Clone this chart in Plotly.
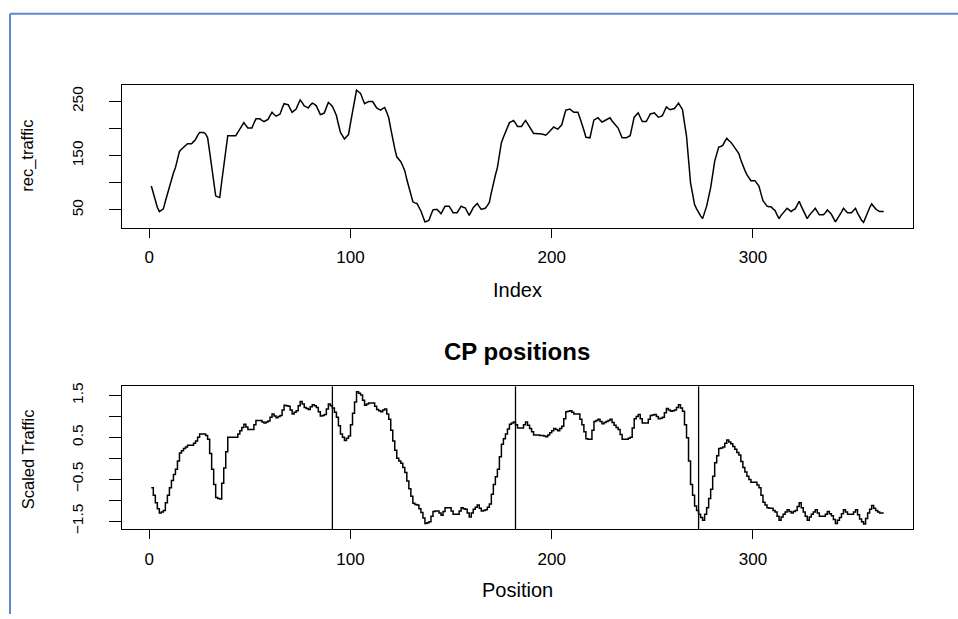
import numpy as np
import plotly.graph_objects as go

# ---------------- data ----------------
rec_traffic = [
    94, 80, 66, 55, 47, 49, 52, 66, 80, 94,
    107, 118, 128, 143, 158, 162, 166, 169, 172, 172,
    172, 176, 180, 187, 193, 193, 193, 190, 183, 157,
    128, 100, 76, 74, 73, 102, 130, 160, 187, 187,
    187, 187, 187, 193, 199, 205, 211, 206, 201, 201,
    201, 210, 218, 218, 218, 215, 213, 215, 217, 224,
    230, 226, 223, 225, 227, 237, 246, 245, 244, 237,
    230, 233, 236, 245, 253, 248, 242, 240, 238, 243,
    247, 245, 242, 234, 226, 227, 229, 239, 248, 245,
    241, 233, 224, 208, 193, 187, 181, 185, 189, 210,
    231, 252, 271, 268, 265, 255, 246, 248, 250, 250,
    250, 244, 238, 236, 234, 237, 239, 230, 220, 200,
    180, 163, 148, 143, 139, 131, 122, 106, 92, 78,
    65, 63, 62, 55, 48, 38, 28, 29, 31, 41,
    50, 51, 51, 47, 43, 50, 57, 57, 57, 51,
    45, 45, 45, 51, 57, 55, 54, 47, 40, 47,
    54, 58, 62, 56, 51, 52, 53, 58, 64, 82,
    100, 114, 128, 151, 174, 184, 193, 202, 211, 213,
    215, 210, 204, 204, 204, 210, 215, 209, 203, 197,
    191, 191, 191, 190, 190, 189, 188, 191, 195, 199,
    203, 201, 199, 203, 207, 221, 234, 235, 236, 233,
    230, 230, 230, 220, 210, 197, 184, 183, 183, 200,
    216, 218, 220, 216, 212, 214, 216, 218, 220, 214,
    209, 205, 201, 192, 183, 183, 183, 185, 187, 204,
    221, 225, 229, 221, 213, 213, 213, 220, 227, 228,
    229, 225, 221, 222, 224, 232, 240, 237, 235, 236,
    237, 242, 247, 241, 235, 210, 186, 143, 100, 80,
    60, 52, 45, 39, 34, 45, 57, 74, 91, 115,
    140, 153, 166, 167, 169, 176, 182, 178, 175, 170,
    165, 159, 154, 142, 131, 123, 115, 109, 104, 104,
    104, 99, 94, 80, 67, 62, 57, 56, 56, 52,
    49, 41, 34, 40, 45, 49, 53, 50, 47, 50,
    52, 59, 66, 57, 49, 41, 34, 40, 45, 49,
    53, 47, 41, 41, 41, 45, 50, 46, 42, 35,
    28, 34, 39, 46, 53, 49, 45, 45, 45, 49,
    53, 44, 36, 31, 27, 37, 47, 54, 61, 56,
    52, 49, 47, 47, 47,
]
cp_positions = [91, 182, 273]

top_y_ticks = [50, 150, 250]
bot_y_ticks = [-1.5, -0.5, 0.5, 1.5]
x_ticks = [0, 100, 200, 300]

# ---------------- derived ----------------
y = np.array(rec_traffic, dtype=float)
idx = np.arange(1, len(y) + 1)
scaled = (y - y.mean()) / y.std(ddof=1)


def rrange(a):
    lo, hi = float(np.min(a)), float(np.max(a))
    d = 0.04 * (hi - lo)
    return [lo - d, hi + d]


W, H = 958, 619
FONT = "Liberation Sans, Arial, Helvetica, sans-serif"


def px(x):
    return x / W


def py(yv):
    return 1 - yv / H


fig = go.Figure()
fig.add_trace(go.Scatter(x=idx, y=y, mode="lines",
                         line=dict(color="black", width=1.5),
                         xaxis="x", yaxis="y", showlegend=False))
fig.add_trace(go.Scatter(x=idx, y=scaled, mode="lines",
                         line=dict(color="black", width=1.5, shape="hv"),
                         xaxis="x2", yaxis="y2", showlegend=False))

for cp in cp_positions:
    fig.add_shape(type="line", xref="x2", yref="y2 domain",
                  x0=cp, x1=cp, y0=0, y1=1,
                  line=dict(color="black", width=1.3))

axis_common = dict(showline=True, linecolor="black", linewidth=1.2,
                   mirror=True, showgrid=False, zeroline=False,
                   ticks="outside", tickcolor="black", tickwidth=1.2)

xr = rrange(idx)
fig.update_layout(
    width=W, height=H,
    margin=dict(l=0, r=0, t=0, b=0, pad=0),
    paper_bgcolor="white", plot_bgcolor="white",
    font=dict(family=FONT, color="black"),
    xaxis=dict(domain=[px(122), px(913)], anchor="y", range=xr,
               tickvals=x_ticks, ticklen=9, ticklabelstandoff=5,
               tickfont=dict(size=17), **axis_common),
    yaxis=dict(domain=[py(227), py(82)], anchor="x", range=rrange(y),
               tickvals=top_y_ticks, ticklen=12, tickangle=-90,
               ticklabelstandoff=20,
               minor=dict(dtick=50, tick0=50, ticks="outside", ticklen=12,
                          tickcolor="black", tickwidth=1.2, showgrid=False),
               tickfont=dict(size=15.5), **axis_common),
    xaxis2=dict(domain=[px(122), px(913)], anchor="y2", range=xr,
                tickvals=x_ticks, ticklen=9, ticklabelstandoff=5,
                tickfont=dict(size=17), **axis_common),
    yaxis2=dict(domain=[py(533), py(388)], anchor="x2", range=rrange(scaled),
                tickvals=bot_y_ticks, ticklen=12, tickangle=-90,
                ticklabelstandoff=20,
                minor=dict(dtick=0.5, tick0=-1.5, ticks="outside", ticklen=12,
                           tickcolor="black", tickwidth=1.2, showgrid=False),
                tickfont=dict(size=15.5), **axis_common),
)

annots = [
    dict(text="Index", x=px(517), y=py(290), size=20, angle=0),
    dict(text="Position", x=px(517), y=py(595), size=20, angle=0),
    dict(text="<b>CP positions</b>", x=px(517), y=py(353), size=24, angle=0),
    dict(text="rec_traffic", x=px(28), y=py(154), size=16.5, angle=-90),
    dict(text="Scaled Traffic", x=px(28), y=py(462), size=16.5, angle=-90),
]
for a in annots:
    fig.add_annotation(text=a["text"], x=a["x"], y=a["y"], xref="paper", yref="paper",
                       showarrow=False, textangle=a["angle"],
                       font=dict(size=a["size"], family=FONT, color="black"),
                       xanchor="center", yanchor="middle")

# blue window frame (top and left edges)
fig.add_shape(type="line", xref="paper", yref="paper",
              x0=px(10), x1=px(10), y0=0, y1=py(10),
              line=dict(color="#5d8ad0", width=2))
fig.add_shape(type="line", xref="paper", yref="paper",
              x0=px(10), x1=1, y0=py(10), y1=py(10),
              line=dict(color="#5d8ad0", width=2))

fig.write_html("out.html")
